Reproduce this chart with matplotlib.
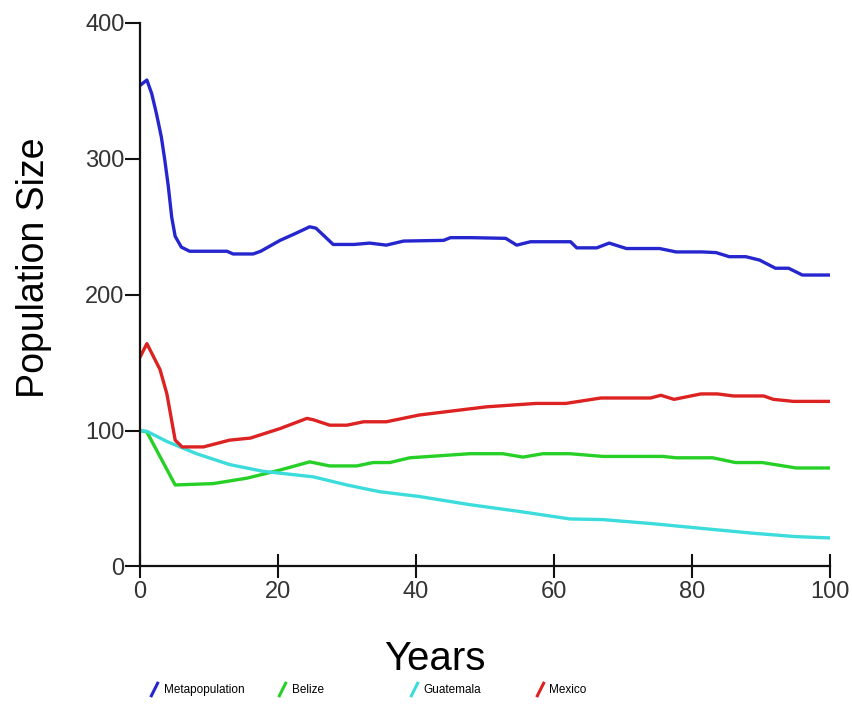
import matplotlib
matplotlib.use("Agg")
import matplotlib.pyplot as plt
from matplotlib.lines import Line2D
from matplotlib import font_manager

# ---------------- data ----------------
meta_years = [0, 1, 1.7, 2.4, 3.1, 3.6, 4.1, 4.6, 5.1, 6, 7.2, 12.6, 13.5, 16.4, 17.5,
              20.3, 22.5, 24.6, 25.5, 28, 31, 33.3, 35.7, 38.2, 44, 45, 48, 53, 54.6,
              56.6, 62.4, 63.3, 66.2, 68, 70.5, 75.3, 77.7, 81.5, 83.5, 85.4, 87.8,
              89.8, 92.1, 94, 96, 100]
meta_pop = [354, 358, 348, 333, 316, 299, 280, 257, 243, 235, 232, 232, 230, 230, 232,
            240, 245, 250, 249, 237, 237, 238, 236.5, 239.5, 240, 242, 242, 241.5, 236.5,
            239, 239, 234.5, 234.5, 238, 234, 234, 231.5, 231.5, 231, 228, 228,
            225.5, 219.5, 219.5, 214.5, 214.5]

belize_years = [0, 1, 5.1, 10.6, 15.5, 20.3, 24.6, 27.5, 31.4, 33.8, 36.2, 39.1, 47.8,
                52.6, 55.5, 58.4, 62.3, 67.1, 75.8, 77.7, 83, 86.3, 90.2, 95.1, 100]
belize_pop = [100, 99, 60, 61, 65, 71, 77, 74, 74, 76.5, 76.5, 80, 83,
              83, 80.5, 83, 83, 81, 81, 80, 80, 76.5, 76.5, 72.5, 72.5]

guat_years = [0, 1, 3.9, 8.2, 13, 17.9, 25.1, 30, 33.3, 34.8, 40.5, 47.8, 55, 62.3,
              67.1, 74.3, 81.5, 88.8, 95, 100]
guat_pop = [100, 99.5, 92, 83, 75, 70, 66, 60, 56.5, 55, 51.5, 45.5, 40.5, 35,
            34.5, 31.5, 28, 24.5, 22, 21]

mex_years = [0, 1, 2.9, 3.9, 5.1, 6.1, 9.2, 13, 16, 20.3, 24.2, 25.1, 27.5, 30, 32.4,
             35.7, 40.5, 50.2, 57.4, 61.7, 66.8, 74, 75.5, 77.4, 81.3, 83.7, 86, 90.4,
             91.8, 94.7, 100]
mex_pop = [154, 164, 145, 127, 93, 88, 88, 93, 94.5, 101.5, 109, 108, 104, 104, 106.5,
           106.5, 111.5, 117.5, 120, 120, 124, 124, 126, 123, 127, 127, 125.5, 125.5,
           123, 121.5, 121.5]

series_labels = ["Metapopulation", "Belize", "Guatemala", "Mexico"]
x_ticks = [0, 20, 40, 60, 80, 100]
y_ticks = [0, 100, 200, 300, 400]

# ---------------- style ----------------
available = {f.name for f in font_manager.fontManager.ttflist}
narrow = "Liberation Sans Narrow" if "Liberation Sans Narrow" in available else "Liberation Sans"
plt.rcParams["font.family"] = ["Liberation Sans", "DejaVu Sans"]

colors = ["#2626cf", "#26d026", "#3cdcdc", "#dd2222"]

fig = plt.figure(figsize=(8.53, 7.09), dpi=100)
ax = fig.add_axes([0.1641, 0.201, 0.8089, 0.7666])

data = [(meta_years, meta_pop), (belize_years, belize_pop),
        (guat_years, guat_pop), (mex_years, mex_pop)]
for (xs, ys), c, lab in zip(data, colors, series_labels):
    ax.plot(xs, ys, color=c, lw=2.4, label=lab, solid_joinstyle="round")

ax.set_xlim(0, 100)
ax.set_ylim(0, 400)
ax.set_xticks(x_ticks)
ax.set_yticks(y_ticks)
ax.set_xticklabels([str(v) for v in x_ticks], fontfamily=narrow, fontsize=17)
ax.set_yticklabels([str(v) for v in y_ticks], fontfamily=narrow, fontsize=17)
for s in ["top", "right"]:
    ax.spines[s].set_visible(False)
for s in ["left", "bottom"]:
    ax.spines[s].set_linewidth(1.6)
    ax.spines[s].set_color("#111111")
ax.tick_params(axis="x", direction="inout", length=17, width=1.5, pad=2, colors="#111111")
ax.tick_params(axis="y", direction="out", length=11, width=1.5, pad=0, colors="#111111")
for t in ax.get_xticklabels() + ax.get_yticklabels():
    t.set_color("#333333")

ax.set_xlabel("Years", fontsize=29)
ax.set_ylabel("Population Size", fontsize=27)
ax.xaxis.set_label_coords(0.4275, -0.135)
ax.yaxis.set_label_coords(-0.127, 0.549)

# legend: one entry per slot, slash-like markers
slash = [(-0.5, -1.0), (0.5, 1.0)]
leg_x = [0.174, 0.324, 0.478, 0.626]
for c, lab, lx in zip(colors, series_labels, leg_x):
    h = Line2D([], [], color=c, marker=slash, markersize=11, markeredgewidth=2.2,
               linestyle="none")
    fig.legend(handles=[h], labels=[lab], loc="center left",
               bbox_to_anchor=(lx, 0.027), frameon=False, handlelength=1.0,
               handletextpad=0.3, borderpad=0, borderaxespad=0,
               prop={"family": narrow, "size": 8.5})

fig.savefig("out.png", dpi=100, facecolor="white")
